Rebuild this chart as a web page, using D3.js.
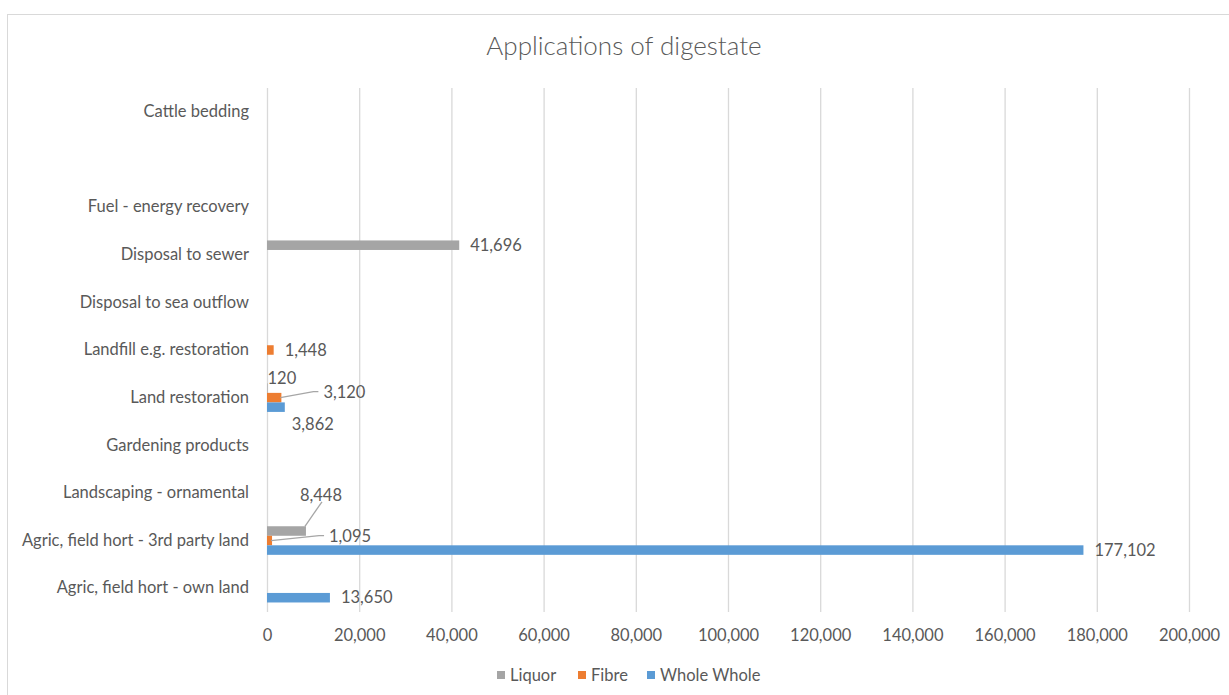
<!DOCTYPE html>
<html>
<head>
<meta charset="utf-8">
<script src="https://cdn.jsdelivr.net/npm/d3@7/dist/d3.min.js"></script>
<style>
  html, body { margin: 0; padding: 0; background: #fff; }
  svg { display: block; }
  text { font-family: Lato, "Open Sans", sans-serif; fill: #595959; }
</style>
</head>
<body>
<svg id="chart" width="1229" height="695"></svg>
<script>
// Categories, listed bottom-to-top as on the value axis (one unlabeled slot)
const categories = [
  "Agric, field hort - own land",
  "Agric, field hort - 3rd party land",
  "Landscaping - ornamental",
  "Gardening products",
  "Land restoration",
  "Landfill e.g. restoration",
  "Disposal to sea outflow",
  "Disposal to sewer",
  "Fuel - energy recovery",
  "",
  "Cattle bedding"
];

// Series values (tonnes); null = no entry
const liquor = [null, 8448, null, null, 120, null, null, 41696, null, null, null];
const fibre  = [null, 1095, null, null, 3120, 1448, null, null, null, null, null];
const whole  = [13650, 177102, null, null, 3862, null, null, null, null, null, null];

const seriesNames = ["Liquor", "Fibre", "Whole Whole"];
const xTicks = [0, 20000, 40000, 60000, 80000, 100000, 120000, 140000, 160000, 180000, 200000];

const colors = { "Liquor": "#a5a5a5", "Fibre": "#ed7d31", "Whole Whole": "#5b9bd5" };
const seriesValues = { "Liquor": liquor, "Fibre": fibre, "Whole Whole": whole };

// Hand-placed data labels: offset from the default spot (bar end + 11px, bar centre)
// and optional leader line.
const labelNudge = {
  "Liquor|1": { dx: -17, dy: -36, leader: true },
  "Fibre|1":  { dx: 46,  dy: -4,  leader: true },
  "Liquor|4": { dx: -11, dy: -10 },
  "Fibre|4":  { dx: 31,  dy: -5,  leader: true },
  "Whole Whole|4": { dx: -4, dy: 17 }
};

const FS = "16.5px";
const svg = d3.select("#chart");

// chart frame
svg.append("rect")
  .attr("x", 7.5).attr("y", 14.5)
  .attr("width", 1240).attr("height", 700)
  .attr("fill", "#fff").attr("stroke", "#d9d9d9").attr("stroke-width", 1);

const plot = { left: 267, right: 1189, top: 88, bottom: 612 };

const x = d3.scaleLinear().domain([0, 200000]).range([plot.left, plot.right]);
const y = d3.scaleBand()
  .domain(categories.slice().reverse())
  .range([plot.top, plot.bottom])
  .paddingInner(0).paddingOuter(0);
const groupH = y.bandwidth() * 0.6;
const ySub = d3.scaleBand().domain(seriesNames).range([-groupH / 2, groupH / 2]);

// title
svg.append("text")
  .attr("x", 624).attr("y", 55)
  .attr("text-anchor", "middle")
  .style("font-size", "26px")
  .style("font-weight", 300)
  .text("Applications of digestate");

// vertical gridlines + tick labels via the axis generator
const xAxis = d3.axisBottom(x)
  .tickValues(xTicks)
  .tickSize(-(plot.bottom - plot.top))
  .tickPadding(17)
  .tickFormat(d3.format(","));
const gx = svg.append("g")
  .attr("transform", `translate(0,${plot.bottom})`)
  .call(xAxis);
gx.select(".domain").remove();
gx.selectAll(".tick line").attr("stroke", "#d9d9d9").attr("stroke-width", 1.3);
gx.selectAll(".tick text")
  .style("font-size", FS).style("font-family", "Lato, sans-serif")
  .attr("fill", "#595959");

// category labels
const yAxis = d3.axisLeft(y).tickSize(0).tickPadding(18);
const gy = svg.append("g")
  .attr("transform", `translate(${plot.left},0)`)
  .call(yAxis);
gy.select(".domain").remove();
gy.selectAll(".tick text")
  .style("font-size", FS).style("font-family", "Lato, sans-serif")
  .attr("fill", "#595959");

// bars
const bars = [];
seriesNames.forEach(s => {
  seriesValues[s].forEach((v, i) => {
    if (v != null) bars.push({ series: s, idx: i, cat: categories[i], value: v });
  });
});

const barG = svg.append("g");
barG.selectAll("rect").data(bars).join("rect")
  .attr("x", x(0))
  .attr("y", d => y(d.cat) + y.bandwidth() / 2 + ySub(d.series))
  .attr("width", d => Math.max(0, x(d.value) - x(0)))
  .attr("height", ySub.bandwidth())
  .attr("fill", d => colors[d.series]);

// data labels
const fmt = d3.format(",");
const labG = svg.append("g");
bars.forEach(d => {
  const bx = x(d.value);
  const by = y(d.cat) + y.bandwidth() / 2 + ySub(d.series) + ySub.bandwidth() / 2;
  const n = labelNudge[d.series + "|" + d.idx] || { dx: 0, dy: 0 };
  const tx = bx + 11 + n.dx;
  const ty = by + n.dy;
  const t = labG.append("text")
    .attr("x", tx).attr("y", ty)
    .attr("dy", "0.35em")
    .style("font-size", FS)
    .text(fmt(d.value));
  if (n.leader) {
    const bb = t.node().getBBox();
    let pts;
    if (n.dy < -20) {
      // label sits above the bar: run from bar tip up to label's lower edge
      const barTop = by - ySub.bandwidth() / 2;
      pts = [[bx - 1, barTop], [tx + 22, bb.y + bb.height - 3]];
    } else {
      pts = [[bx - 1, by], [tx - 10, ty - 1], [tx - 5, ty - 1]];
    }
    labG.append("path")
      .attr("d", d3.line()(pts))
      .attr("fill", "none")
      .attr("stroke", "#a6a6a6")
      .attr("stroke-width", 1.3);
  }
});

// legend
const legendItems = [
  { name: "Liquor", x: 497 },
  { name: "Fibre", x: 578 },
  { name: "Whole Whole", x: 647 }
];
const lg = svg.append("g");
legendItems.forEach(it => {
  lg.append("rect")
    .attr("x", it.x).attr("y", 671)
    .attr("width", 8).attr("height", 8)
    .attr("fill", colors[it.name]);
  lg.append("text")
    .attr("x", it.x + 13).attr("y", 675)
    .attr("dy", "0.35em")
    .style("font-size", FS)
    .text(it.name);
});
</script>
</body>
</html>
